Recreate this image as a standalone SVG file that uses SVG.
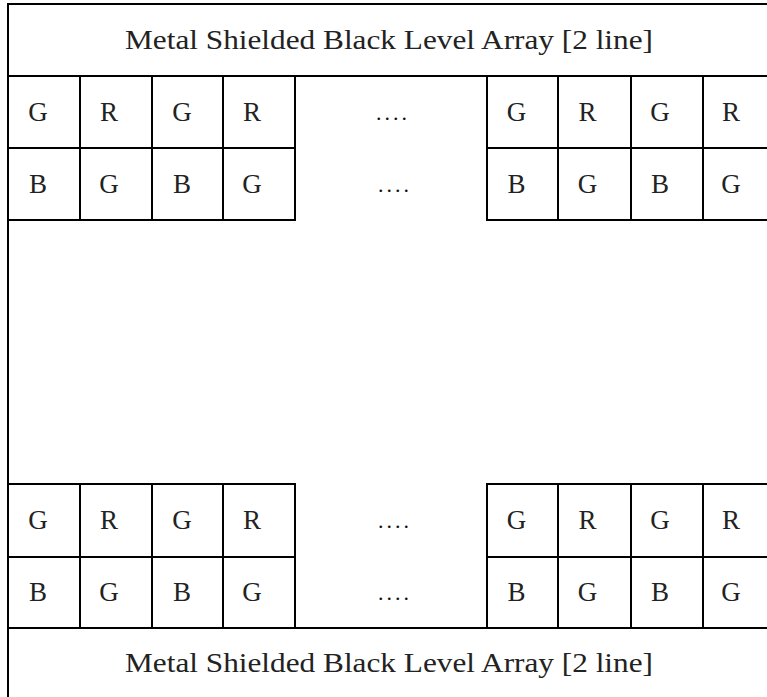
<svg xmlns="http://www.w3.org/2000/svg" width="767" height="697" viewBox="0 0 767 697">
<style>
  .ln { stroke: #000; stroke-width: 2; fill: none; }
  .cell { fill: #fff; stroke: #000; stroke-width: 2; }
  .t { font-family: "Liberation Serif", "DejaVu Serif", serif; font-size: 27px; fill: #222; }
  .lt { font-family: "Liberation Serif", "DejaVu Serif", serif; font-size: 27px; fill: #222; text-anchor: middle; }
  .dots { font-family: "Liberation Serif", "DejaVu Serif", serif; font-size: 22px; fill: #111; letter-spacing: 3px; }
</style>
<rect width="767" height="697" fill="#fff"/>
<g id="connectors">
  <line class="ln" x1="8" y1="4" x2="767" y2="4"/>
  <line class="ln" x1="8" y1="3" x2="8" y2="697"/>
  <line class="ln" x1="8" y1="76" x2="767" y2="76"/>
  <line class="ln" x1="8" y1="628" x2="767" y2="628"/>
</g>
<g id="header-top">
  <text class="t" x="125" y="49" textLength="528" lengthAdjust="spacingAndGlyphs">Metal Shielded Black Level Array [2 line]</text>
</g>
<g id="header-bottom">
  <text class="t" x="125" y="672" textLength="528" lengthAdjust="spacingAndGlyphs">Metal Shielded Black Level Array [2 line]</text>
</g>
<g id="block-top-left">
  <rect class="cell" x="8" y="76" width="72" height="72"/>
  <rect class="cell" x="80" y="76" width="72" height="72"/>
  <rect class="cell" x="152" y="76" width="71" height="72"/>
  <rect class="cell" x="223" y="76" width="72" height="72"/>
  <rect class="cell" x="8" y="148" width="72" height="72"/>
  <rect class="cell" x="80" y="148" width="72" height="72"/>
  <rect class="cell" x="152" y="148" width="71" height="72"/>
  <rect class="cell" x="223" y="148" width="72" height="72"/>
  <text class="lt" x="38" y="121">G</text>
  <text class="lt" x="109" y="121">R</text>
  <text class="lt" x="182" y="121">G</text>
  <text class="lt" x="252" y="121">R</text>
  <text class="lt" x="38" y="193">B</text>
  <text class="lt" x="109" y="193">G</text>
  <text class="lt" x="182" y="193">B</text>
  <text class="lt" x="252" y="193">G</text>
</g>
<g id="block-top-right">
  <rect class="cell" x="487" y="76" width="71" height="72"/>
  <rect class="cell" x="558" y="76" width="73" height="72"/>
  <rect class="cell" x="631" y="76" width="72" height="72"/>
  <rect class="cell" x="703" y="76" width="72" height="72"/>
  <rect class="cell" x="487" y="148" width="71" height="72"/>
  <rect class="cell" x="558" y="148" width="73" height="72"/>
  <rect class="cell" x="631" y="148" width="72" height="72"/>
  <rect class="cell" x="703" y="148" width="72" height="72"/>
  <text class="lt" x="516.5" y="121">G</text>
  <text class="lt" x="587.5" y="121">R</text>
  <text class="lt" x="660" y="121">G</text>
  <text class="lt" x="731" y="121">R</text>
  <text class="lt" x="516.5" y="193">B</text>
  <text class="lt" x="587.5" y="193">G</text>
  <text class="lt" x="660" y="193">B</text>
  <text class="lt" x="731" y="193">G</text>
</g>
<g id="dots-top">
  <text class="dots" x="376" y="120">....</text>
  <text class="dots" x="378" y="192">....</text>
</g>
<g id="block-bottom-left">
  <rect class="cell" x="8" y="484" width="72" height="73"/>
  <rect class="cell" x="80" y="484" width="72" height="73"/>
  <rect class="cell" x="152" y="484" width="71" height="73"/>
  <rect class="cell" x="223" y="484" width="72" height="73"/>
  <rect class="cell" x="8" y="557" width="72" height="71"/>
  <rect class="cell" x="80" y="557" width="72" height="71"/>
  <rect class="cell" x="152" y="557" width="71" height="71"/>
  <rect class="cell" x="223" y="557" width="72" height="71"/>
  <text class="lt" x="38" y="529">G</text>
  <text class="lt" x="109" y="529">R</text>
  <text class="lt" x="182" y="529">G</text>
  <text class="lt" x="252" y="529">R</text>
  <text class="lt" x="38" y="601">B</text>
  <text class="lt" x="109" y="601">G</text>
  <text class="lt" x="182" y="601">B</text>
  <text class="lt" x="252" y="601">G</text>
</g>
<g id="block-bottom-right">
  <rect class="cell" x="487" y="484" width="71" height="73"/>
  <rect class="cell" x="558" y="484" width="73" height="73"/>
  <rect class="cell" x="631" y="484" width="72" height="73"/>
  <rect class="cell" x="703" y="484" width="72" height="73"/>
  <rect class="cell" x="487" y="557" width="71" height="71"/>
  <rect class="cell" x="558" y="557" width="73" height="71"/>
  <rect class="cell" x="631" y="557" width="72" height="71"/>
  <rect class="cell" x="703" y="557" width="72" height="71"/>
  <text class="lt" x="516.5" y="529">G</text>
  <text class="lt" x="587.5" y="529">R</text>
  <text class="lt" x="660" y="529">G</text>
  <text class="lt" x="731" y="529">R</text>
  <text class="lt" x="516.5" y="601">B</text>
  <text class="lt" x="587.5" y="601">G</text>
  <text class="lt" x="660" y="601">B</text>
  <text class="lt" x="731" y="601">G</text>
</g>
<g id="dots-bottom">
  <text class="dots" x="378" y="528">....</text>
  <text class="dots" x="378" y="600">....</text>
</g>
</svg>
